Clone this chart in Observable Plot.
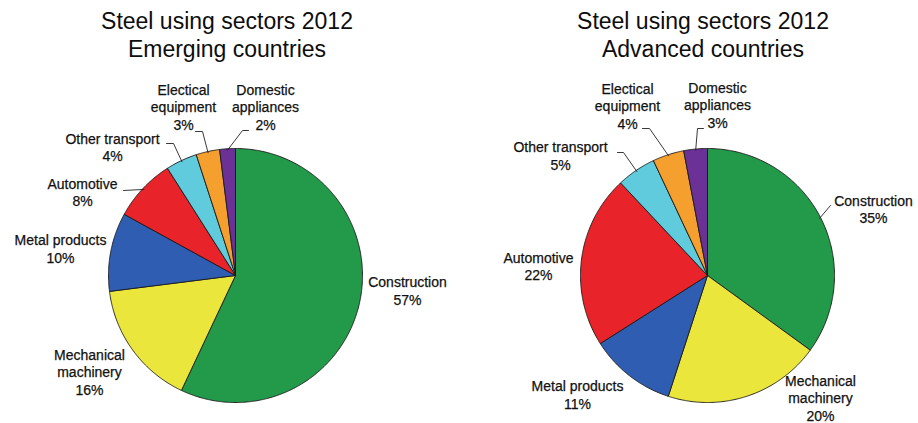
<!DOCTYPE html>
<html><head><meta charset="utf-8">
<script src="https://cdn.jsdelivr.net/npm/d3@7"></script>
<script src="https://cdn.jsdelivr.net/npm/@observablehq/plot@0.6"></script>
<style>
body{margin:0;background:#fff;font-family:"Liberation Sans",Arial,sans-serif;}
#wrap{display:flex;width:918px;height:423px;overflow:hidden}
.panel{width:459px;height:423px;position:relative;overflow:hidden}
.title{box-sizing:border-box;height:68px;padding-top:7px;font-size:23px;line-height:28px;text-align:center;color:#0d0d0d}
</style></head><body><div id="wrap"></div>
<script>
// ---- data ----
const sectors = ["Construction","Mechanical machinery","Metal products","Automotive","Other transport","Electical equipment","Domestic appliances"];
const sectorLabels = ["Construction","Mechanical\nmachinery","Metal products","Automotive","Other transport","Electical\nequipment","Domestic\nappliances"];
const emergingShares = [57,16,10,8,4,3,2];
const advancedShares = [35,20,11,22,5,4,3];
const sectorColors = ["#23994a","#ebe63c","#2f5db2","#e8232a","#5fcbdc","#f5a02e","#6b3196"];
const titleLine1 = "Steel using sectors 2012";
const groupTitles = ["Emerging countries","Advanced countries"];

// ---- layout (pixel offsets from pie centre, y down) ----
const W = 459, H = 355, R = 127;
const layouts = [
  {cx:235, cy:207, titleStyle:"padding-right:5px",
   labels:[[172,15],[-146,96],[-175,-27],[-153,-83.5],[-123,-128.5],[-52,-169],[30,-169]],
   leaders:{3:[[-112,-85]],4:[[-69,-132],[-62,-132]],5:[[-40,-144],[-33,-144]],6:[[13,-145],[7,-145]]}},
  {cx:248, cy:207, titleStyle:"padding-left:29px",
   labels:[[166,-66.5],[113,122],[-130,119],[-169,-9.5],[-147,-120],[-80,-170],[10,-171]],
   leaders:{0:[[123,-70]],4:[[-90,-123],[-84,-123]],5:[[-65,-147],[-58,-147]],6:[[-4,-147],[-10,-147]]}}
];

const wrap = document.getElementById("wrap");
[emergingShares, advancedShares].forEach((shares, gi) => {
  const L = layouts[gi];
  const rows = sectors.map((s, i) => ({sector: s, share: shares[i], label: sectorLabels[i] + "\n" + shares[i] + "%"}));
  const arcs = d3.pie().sort(null).value(d => d.share)(rows);
  const slicePts = [];
  arcs.forEach(a => {
    slicePts.push({sector: a.data.sector, x: 0, y: 0});
    const n = Math.max(2, Math.ceil((a.endAngle - a.startAngle) / (Math.PI / 360)));
    for (let k = 0; k <= n; k++) {
      const t = a.startAngle + (a.endAngle - a.startAngle) * k / n;
      slicePts.push({sector: a.data.sector, x: Math.sin(t), y: Math.cos(t)});
    }
    slicePts.push({sector: a.data.sector, x: 0, y: 0});
  });
  const labelPts = arcs.map((a, i) => ({text: a.data.label, x: L.labels[i][0] / R, y: -L.labels[i][1] / R}));
  const leaderPts = [];
  Object.entries(L.leaders).forEach(([idx, pts]) => {
    const a = arcs[+idx];
    const mid = (a.startAngle + a.endAngle) / 2;
    pts.forEach(p => leaderPts.push({id: idx, x: p[0] / R, y: -p[1] / R}));
    leaderPts.push({id: idx, x: Math.sin(mid) * 0.99, y: Math.cos(mid) * 0.99});
  });

  const chart = Plot.plot({
    width: W, height: H, margin: 0,
    style: {fontFamily: '"Liberation Sans", Arial, sans-serif', background: "#fff", overflow: "visible"},
    x: {domain: [-L.cx / R, (W - L.cx) / R], axis: null},
    y: {domain: [-(H - L.cy) / R, L.cy / R], axis: null},
    color: {domain: sectors, range: sectorColors},
    marks: [
      Plot.line(slicePts, {x: "x", y: "y", z: "sector", fill: "sector", stroke: "#1a1a1a", strokeWidth: 0.9, curve: "linear", strokeLinejoin: "round"}),
      Plot.line(leaderPts, {x: "x", y: "y", z: "id", stroke: "#222", strokeWidth: 0.9, fill: "none"}),
      Plot.text(labelPts, {x: "x", y: "y", text: "text", fontSize: 14, lineHeight: 1.25, textAnchor: "middle", fill: "#111", stroke: "#111", strokeWidth: 0.25})
    ]
  });
  const panel = document.createElement("div");
  panel.className = "panel";
  const title = document.createElement("div");
  title.className = "title";
  title.setAttribute("style", L.titleStyle);
  title.innerHTML = titleLine1 + "<br>" + groupTitles[gi];
  panel.appendChild(title);
  panel.appendChild(chart);
  wrap.appendChild(panel);
});
</script></body></html>
